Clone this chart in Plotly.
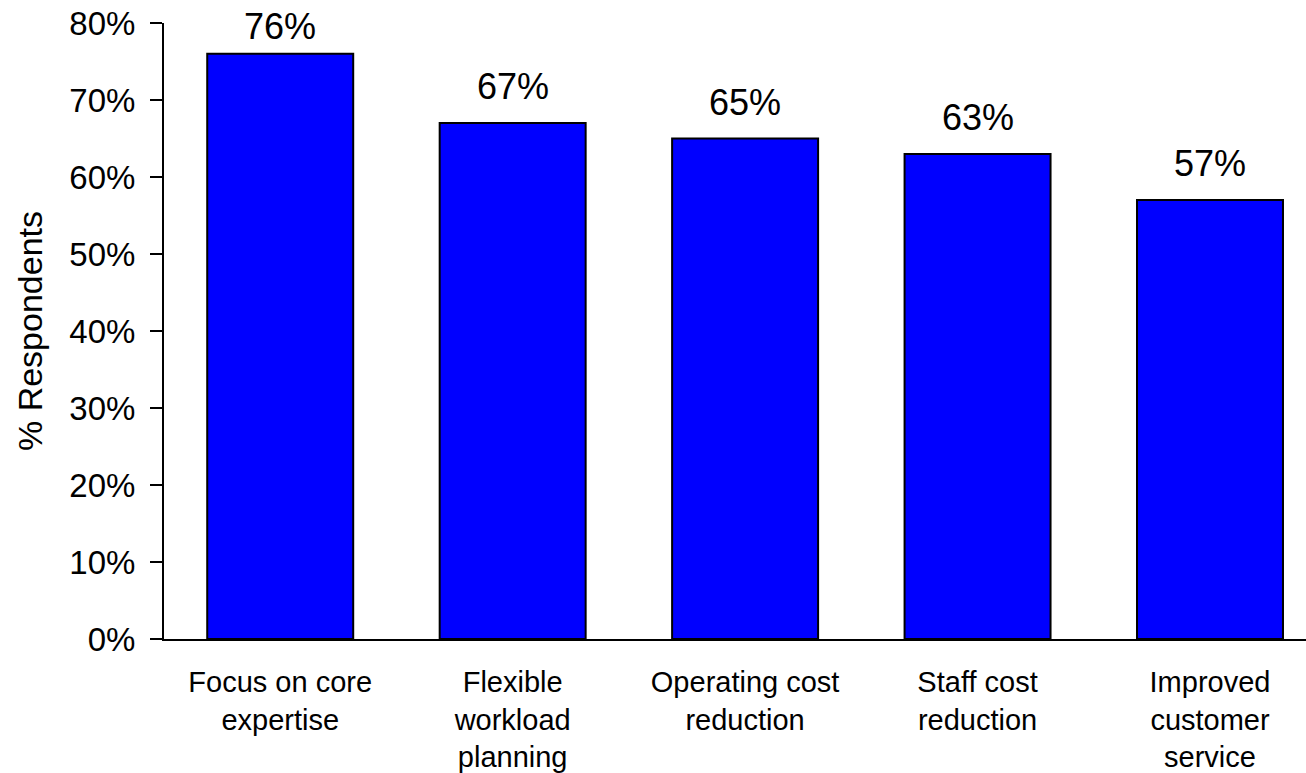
import plotly.graph_objects as go

categories = ["Focus on core<br>expertise", "Flexible<br>workload<br>planning",
              "Operating cost<br>reduction", "Staff cost<br>reduction",
              "Improved<br>customer<br>service"]
values = [0.76, 0.67, 0.65, 0.63, 0.57]
labels = ["76%", "67%", "65%", "63%", "57%"]
y_ticks = [0, 0.1, 0.2, 0.3, 0.4, 0.5, 0.6, 0.7, 0.8]

FONT = "Arial, Liberation Sans, sans-serif"
Y_MAX = 0.8
PLOT_H = 616  # pixel height of the plotting area

fig = go.Figure(go.Bar(
    x=categories, y=values,
    marker=dict(color="#0000FF", line=dict(color="black", width=2)),
))

for c, v, t in zip(categories, values, labels):
    room = (Y_MAX - v) / Y_MAX * PLOT_H  # pixels between bar top and plot top
    shift = min(14, max(5, room - 26))
    fig.add_annotation(x=c, y=v, text=t, showarrow=False, yanchor="bottom",
                       yshift=shift, font=dict(family=FONT, size=36, color="black"))

fig.update_layout(
    width=1306, height=773,
    margin=dict(l=164, r=0, t=23, b=134),
    plot_bgcolor="white", paper_bgcolor="white",
    bargap=0.372, showlegend=False,
    font=dict(family=FONT, color="black"),
)
fig.update_xaxes(
    range=[-0.5, 4.413], showline=True, linecolor="black", linewidth=2,
    ticks="", tickfont=dict(family=FONT, size=29, color="black"),
    ticklabelstandoff=16,
)
fig.update_yaxes(
    range=[0, Y_MAX], tickvals=y_ticks, tickformat=".0%",
    showline=True, linecolor="black", linewidth=2, showgrid=False, zeroline=False,
    ticks="outside", ticklen=12, tickwidth=2, tickcolor="black",
    tickfont=dict(family=FONT, size=33, color="black"),
    ticklabelstandoff=8,
    title=dict(text="% Respondents", font=dict(family=FONT, size=34, color="black"), standoff=16),
)

fig.write_html("out.html")
